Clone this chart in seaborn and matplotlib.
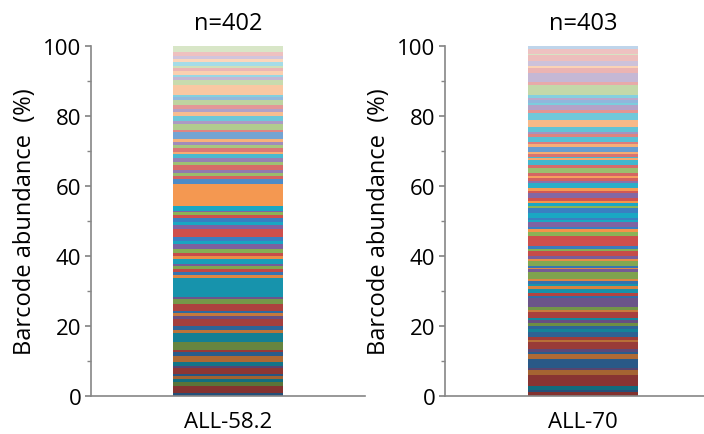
import numpy as np
import pandas as pd
import seaborn as sns
import matplotlib.pyplot as plt
import matplotlib.colors as mcolors
from matplotlib.ticker import MultipleLocator

sns.set_theme(style='ticks')
plt.rcParams['font.family'] = ['Open Sans', 'DejaVu Sans']
plt.rcParams['text.color'] = 'black'
plt.rcParams['axes.labelcolor'] = 'black'
plt.rcParams['xtick.color'] = 'black'
plt.rcParams['ytick.color'] = 'black'

samples = ['ALL-58.2', 'ALL-70']
n_barcodes = [402, 403]

# barcode bands read bottom -> top (% of reads), colour family per band
left_sizes = [1.0, 1.9, 1.0, 1.0, 0.9, 0.5, 1.6, 0.8, 0.9, 1.9,
              1.0, 0.7, 2.1, 2.7, 0.9, 1.2, 1.9, 0.8, 0.9, 0.7,
              1.9, 1.4, 0.5, 5.4, 1.0, 0.7, 1.0, 0.8, 0.6, 1.4,
              0.8, 1.1, 1.0, 1.4, 1.0, 0.9, 2.4, 1.2, 0.9, 1.0,
              0.9, 0.8, 0.4, 1.5, 6.2, 1.4, 0.8, 0.9, 1.0, 1.3,
              0.9, 1.0, 1.2, 0.7, 1.0, 0.9, 1.0, 0.7, 1.9, 0.8,
              1.6, 1.0, 1.3, 1.2, 0.8, 1.1, 1.6, 0.6, 0.7, 2.9,
              1.5, 0.7, 0.7, 1.2, 0.6, 0.6, 1.3, 0.8, 0.8, 1.3, 1.6]
left_keys = ("brgaobrpao" "brgaobrpob" "rgpaobrgpa" "orgpabrpab"
             "rgpaobrgpr" "gpaorgpobr" "gpaoprgbao" "gpaorgaoprg")

right_sizes = [1.1, 0.5, 1.4, 2.9, 1.4, 0.7, 2.6, 1.4, 0.7, 0.7,
               1.9, 0.75, 0.75, 1.4, 1.0, 0.9, 0.9, 0.7, 0.7, 1.5,
               0.7, 0.7, 2.6, 0.7, 0.9, 1.0, 0.9, 0.7, 0.7, 0.7,
               1.9, 0.8, 0.45, 0.45, 1.4, 0.7, 0.7, 1.5, 0.6, 0.8,
               3.0, 1.0, 0.8, 0.7, 1.3, 0.8, 0.5, 1.4, 1.4, 0.7,
               0.7, 0.7, 0.7, 1.5, 0.7, 0.7, 1.4, 0.7, 0.7, 0.7,
               0.7, 1.5, 0.9, 1.4, 0.5, 0.5, 0.7, 0.7, 1.4, 0.7,
               0.7, 1.4, 0.75, 0.75, 1.4, 1.9, 2.1, 0.7, 1.5, 0.7,
               0.7, 0.7, 0.7, 2.9, 0.9, 2.6, 1.4, 0.7, 1.4, 1.5,
               0.45, 1.35, 0.9]
right_keys = ("rbaropbobp" "rorbabgpar" "ogpbraoabo" "gpobgoprgb"
              "rgobpababg" "aorproapro" "rgraoarobo" "rarpaoarpa"
              "bpagrpropr" "grb")

base = {'b': '#3A7FC1', 'r': '#CF4F4C', 'g': '#8BB356',
        'p': '#7F63A2', 'a': '#1AA7C3', 'o': '#F4944A'}


def shade(key, pos):
    # excel-ish: darker shades at the bottom, pale tints at the top
    rgb = np.array(mcolors.to_rgb(base[key]))
    if pos < 45:
        return tuple(rgb * (0.62 + 0.38 * pos / 45))
    if pos > 55:
        t = 0.68 * (pos - 55) / 45
        return tuple(rgb + (1 - rgb) * t)
    return tuple(rgb)


fig = plt.figure(figsize=(7.04, 4.35), dpi=100)
boxes = [[91 / 704, 38 / 435, 274 / 704, 350 / 435],
         [445 / 704, 38 / 435, 276 / 704, 350 / 435]]
grey = '#868686'

for name, n, sizes, keys, box in zip(samples, n_barcodes, [left_sizes, right_sizes],
                                     [left_keys, right_keys], boxes):
    ax = fig.add_axes(box)
    df = pd.DataFrame({'size': sizes, 'key': list(keys)})
    df['pct'] = df['size'] / df['size'].sum() * 100
    df['top'] = df['pct'].cumsum()
    df['mid'] = df['top'] - df['pct'] / 2
    # draw cumulative bars from the top down so each band sits on the one below
    for row in df.iloc[::-1].itertuples():
        sns.barplot(x=[name], y=[row.top], color=shade(row.key, row.mid),
                    width=0.4, saturation=1, linewidth=0, ax=ax)
    ax.set_xlim(-0.5, 0.5)
    ax.set_ylim(0, 100)
    ax.yaxis.set_major_locator(MultipleLocator(20))
    ax.yaxis.set_minor_locator(MultipleLocator(10))
    ax.tick_params(axis='y', which='major', length=4, color=grey, labelsize=16, pad=3)
    ax.tick_params(axis='y', which='minor', length=3, color=grey)
    ax.tick_params(axis='x', length=0, labelsize=16, pad=11)
    for s in ['top', 'right']:
        ax.spines[s].set_visible(False)
    for s in ['left', 'bottom']:
        ax.spines[s].set_color(grey)
        ax.spines[s].set_linewidth(1.2)
    ax.set_ylabel('Barcode abundance  (%)', fontsize=17, labelpad=4)
    ax.set_xlabel('')
    ax.set_title(f'n={n}', fontsize=17, pad=12)

fig.savefig('out.png', dpi=100, facecolor='white')
